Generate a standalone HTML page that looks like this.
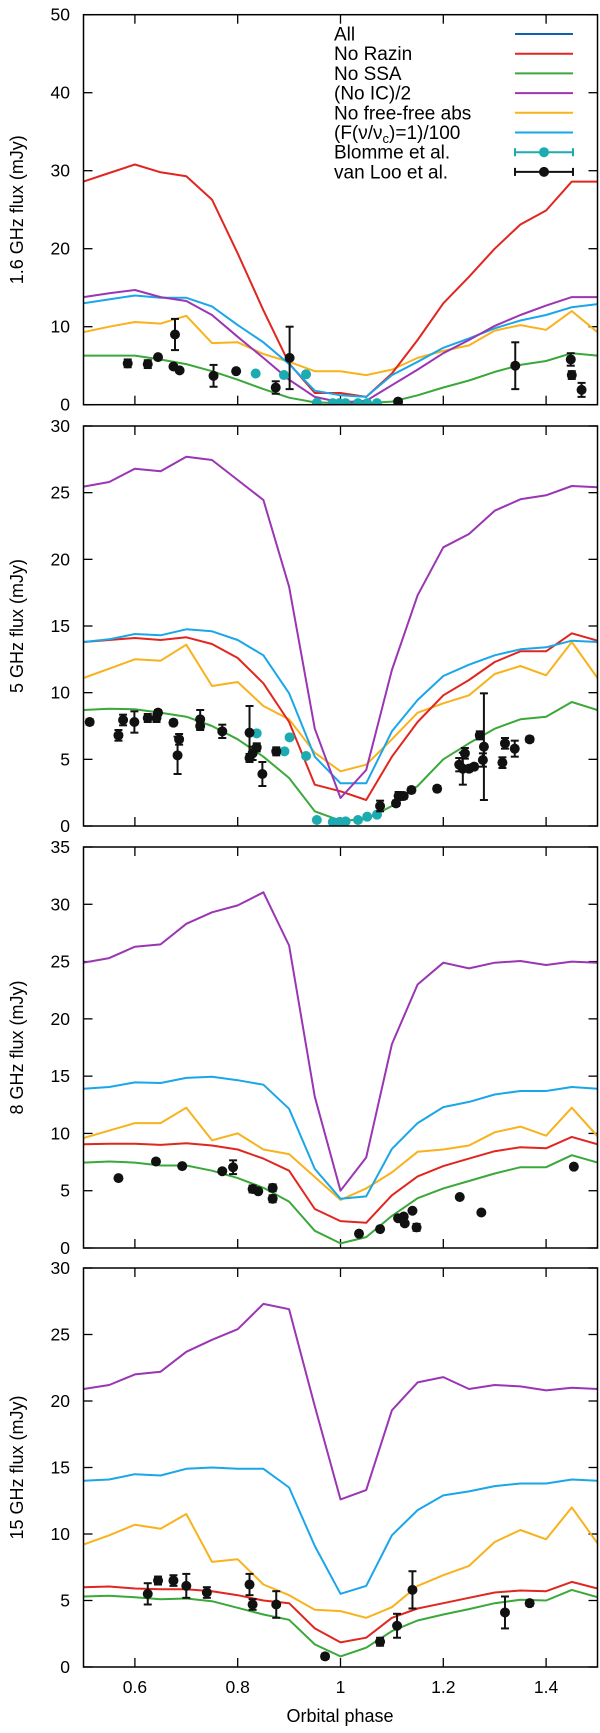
<!DOCTYPE html>
<html><head><meta charset="utf-8"><style>
html,body{margin:0;padding:0;background:#fff;}
svg{display:block;font-family:"Liberation Sans",Arial,sans-serif;}
</style></head><body>
<svg id="chart" width="600" height="1733" viewBox="0 0 600 1733" xmlns="http://www.w3.org/2000/svg"></svg>
<script>
const phases=[0.5,0.55,0.6,0.65,0.7,0.75,0.8,0.85,0.9,0.95,1.0,1.05,1.1,1.15,1.2,1.25,1.3,1.35,1.4,1.45,1.5];
const xTicks=[0.6,0.8,1,1.2,1.4];
const xTickLabels=["0.6","0.8","1","1.2","1.4"];
const seriesNames=["All","No Razin","No SSA","(No IC)/2","No free-free abs","(F(ν/νc)=1)/100"];
// Panel 1: 1.6 GHz
const p1Red=[28.6,29.7,30.8,29.8,29.3,26.3,19.4,12.1,5.3,1.5,1.5,1.0,4.0,8.3,13.0,16.4,20.0,23.1,24.9,28.6,28.6];
const p1Purple=[13.8,14.3,14.7,13.8,13.3,11.5,8.7,6.0,3.2,1.0,0.3,0.5,2.5,4.5,6.6,8.3,10.1,11.5,12.7,13.8,13.8];
const p1Blue=[13.0,13.5,14.0,13.7,13.7,12.6,10.2,8.0,5.2,1.8,1.2,1.0,3.8,5.5,7.3,8.5,9.8,10.8,11.5,12.5,12.9];
const p1Orange=[9.3,10.0,10.6,10.4,11.4,7.9,8.0,6.5,5.5,4.3,4.3,3.8,4.5,6.0,6.9,7.6,9.5,10.2,9.6,12.0,9.3];
const p1Green=[6.3,6.3,6.3,5.8,5.2,4.3,3.2,2.0,0.9,0.3,0.2,0.2,0.4,1.2,2.2,3.1,4.2,5.1,5.6,6.6,6.3];
const p1LooX=[0.586,0.625,0.645,0.678,0.675,0.687,0.753,0.797,0.874,0.901,1.112,1.34,1.448,1.45,1.469];
const p1LooY=[5.3,5.2,6.1,9.0,4.9,4.4,3.7,4.3,2.2,6.0,0.4,5.0,5.8,3.8,1.9];
const p1LooE=[0.5,0.5,0.2,2.0,0.2,0.2,1.4,0.2,0.8,4.0,0.2,3.0,0.8,0.5,0.9];
const p1BlX=[0.835,0.89,0.933,0.954,0.985,0.998,1.01,1.034,1.052,1.071];
const p1BlY=[4.0,3.8,3.9,0.25,0.2,0.2,0.2,0.2,0.2,0.2];
// Panel 2: 5 GHz
const p2Red=[13.8,13.95,14.1,13.95,14.15,13.65,12.6,10.7,7.8,3.1,2.6,1.95,5.2,7.8,9.8,10.95,12.3,13.1,13.1,14.45,13.9];
const p2Purple=[25.45,25.8,26.8,26.6,27.7,27.45,25.95,24.45,17.95,7.3,2.1,4.2,11.7,17.3,20.9,21.9,23.65,24.5,24.8,25.5,25.4];
const p2Blue=[13.8,14.0,14.4,14.3,14.75,14.6,13.95,12.8,9.95,5.2,3.2,3.2,7.1,9.45,11.25,12.1,12.8,13.25,13.4,13.9,13.8];
const p2Orange=[11.1,11.8,12.5,12.4,13.6,10.5,10.8,9.0,8.0,5.5,4.1,4.6,6.5,8.5,9.2,9.8,11.4,12.0,11.3,13.8,11.1];
const p2Green=[8.7,8.8,8.75,8.5,8.2,7.5,6.5,5.2,3.6,1.1,0.4,0.5,1.5,3.0,5.0,6.2,7.3,8.0,8.2,9.3,8.7];
const p2LooX=[0.512,0.568,0.577,0.599,0.625,0.642,0.645,0.675,0.686,0.683,0.727,0.727,0.77,0.823,0.823,0.829,0.837,0.848,0.875,1.077,1.108,1.113,1.123,1.138,1.188,1.231,1.238,1.242,1.25,1.26,1.271,1.277,1.279,1.315,1.32,1.339,1.368];
const p2LooY=[7.8,6.8,7.95,7.8,8.1,8.1,8.5,7.75,6.5,5.3,8.0,7.5,7.1,7.0,5.1,5.45,5.9,3.9,5.6,1.5,1.7,2.25,2.25,2.7,2.8,4.6,4.3,5.45,4.3,4.45,6.8,4.95,5.95,4.75,6.2,5.8,6.5];
const p2LooE=[0.2,0.4,0.4,0.8,0.3,0.3,0.2,0.2,0.4,1.4,0.7,0.3,0.5,2.0,0.3,0.5,0.3,0.9,0.3,0.4,0.2,0.3,0.2,0.2,0.2,0.5,1.2,0.4,0.2,0.2,0.3,0.5,4.0,0.4,0.4,0.6,0.2];
const p2BlX=[0.837,0.891,0.901,0.933,0.954,0.985,0.998,1.01,1.034,1.052,1.071];
const p2BlY=[6.95,5.6,6.65,5.25,0.45,0.3,0.3,0.35,0.45,0.7,0.85];
// Panel 3: 8 GHz
const p3Red=[9.05,9.1,9.1,9.0,9.15,8.95,8.6,7.8,6.75,3.4,2.35,2.2,4.6,6.25,7.15,7.8,8.45,8.8,8.7,9.7,9.05];
const p3Purple=[24.9,25.3,26.3,26.5,28.3,29.3,29.9,31.05,26.4,13.2,5.0,7.9,17.8,23.0,24.9,24.4,24.9,25.05,24.7,25.0,24.9];
const p3Blue=[13.9,14.05,14.45,14.4,14.85,14.95,14.65,14.25,12.15,6.9,4.3,4.5,8.65,10.9,12.3,12.75,13.4,13.7,13.7,14.05,13.9];
const p3Orange=[9.6,10.25,10.9,10.9,12.25,9.4,10.0,8.6,8.2,6.2,4.2,5.2,6.6,8.4,8.6,8.95,10.1,10.6,9.8,12.25,9.75];
const p3Green=[7.45,7.55,7.45,7.2,7.2,6.75,6.1,5.25,4.05,1.5,0.4,0.95,2.8,4.35,5.2,5.85,6.5,7.05,7.05,8.1,7.45];
const p3LooX=[0.568,0.641,0.692,0.77,0.791,0.829,0.84,0.868,0.868,1.036,1.077,1.112,1.123,1.125,1.14,1.148,1.232,1.274,1.454];
const p3LooY=[6.1,7.55,7.15,6.7,7.05,5.15,4.95,5.25,4.3,1.25,1.65,2.6,2.75,2.15,3.25,1.8,4.45,3.1,7.1];
const p3LooE=[0.1,0.2,0.1,0.2,0.6,0.3,0.1,0.3,0.3,0.1,0.1,0.1,0.1,0.1,0.1,0.3,0.1,0.1,0.1];
// Panel 4: 15 GHz
const p4Red=[6.0,6.05,5.9,5.85,5.85,5.7,5.4,5.0,4.8,2.9,1.85,2.2,3.7,4.4,4.8,5.2,5.6,5.75,5.7,6.4,5.9];
const p4Purple=[20.9,21.2,22.0,22.2,23.7,24.6,25.4,27.3,26.9,19.6,12.6,13.3,19.3,21.4,21.8,20.9,21.2,21.1,20.8,21.0,20.9];
const p4Blue=[14.0,14.1,14.5,14.4,14.9,15.0,14.9,14.9,13.5,9.1,5.5,6.1,9.9,11.8,12.9,13.2,13.6,13.8,13.8,14.1,14.0];
const p4Orange=[9.2,9.9,10.7,10.4,11.5,7.9,8.1,6.2,5.4,4.3,4.2,3.7,4.5,6.1,6.9,7.6,9.4,10.3,9.6,12.0,9.3];
const p4Green=[5.3,5.35,5.25,5.1,5.15,4.95,4.45,3.95,3.55,1.7,0.8,1.45,2.7,3.5,3.95,4.35,4.8,5.05,5.0,5.8,5.25];
const p4LooX=[0.625,0.645,0.675,0.7,0.74,0.823,0.829,0.875,0.97,1.077,1.11,1.14,1.32,1.368];
const p4LooY=[5.5,6.5,6.5,6.1,5.6,6.2,4.7,4.7,0.8,1.9,3.1,5.8,4.1,4.8];
const p4LooE=[0.8,0.3,0.4,0.9,0.4,0.8,0.4,1.0,0.2,0.3,0.9,1.4,1.2,0.2];

const NS="http://www.w3.org/2000/svg";
const svg=document.getElementById('chart');
const COL={red:"#e0261f",green:"#3aa83a",purple:"#9a35b3",orange:"#f8b21c",blue:"#1aa6e8",all:"#1060b0",teal:"#1cabb0",black:"#111"};
const X0=83.5,X1=597.5;
function xs(p){return X0+(p-0.5)*(X1-X0);}
function mk(tag,attrs,parent){const e=document.createElementNS(NS,tag);for(const k in attrs)e.setAttribute(k,attrs[k]);(parent||svg).appendChild(e);return e;}

const panels=[
 {name:"panel-1-6ghz",title:"1.6 GHz flux (mJy)",top:14.7,bot:404.7,ymax:50,step:10,red:p1Red,purple:p1Purple,blue:p1Blue,orange:p1Orange,green:p1Green,lx:p1LooX,ly:p1LooY,le:p1LooE,bx:p1BlX,by:p1BlY},
 {name:"panel-5ghz",title:"5 GHz flux (mJy)",top:426,bot:826,ymax:30,step:5,red:p2Red,purple:p2Purple,blue:p2Blue,orange:p2Orange,green:p2Green,lx:p2LooX,ly:p2LooY,le:p2LooE,bx:p2BlX,by:p2BlY},
 {name:"panel-8ghz",title:"8 GHz flux (mJy)",top:847,bot:1248,ymax:35,step:5,red:p3Red,purple:p3Purple,blue:p3Blue,orange:p3Orange,green:p3Green,lx:p3LooX,ly:p3LooY,le:p3LooE,bx:[],by:[]},
 {name:"panel-15ghz",title:"15 GHz flux (mJy)",top:1268,bot:1667,ymax:30,step:5,red:p4Red,purple:p4Purple,blue:p4Blue,orange:p4Orange,green:p4Green,lx:p4LooX,ly:p4LooY,le:p4LooE,bx:[],by:[]}
];

panels.forEach((P,pi)=>{
  const g=mk('g',{});
  
  
  const ys=v=>P.bot-(v/P.ymax)*(P.bot-P.top);
  // y ticks and labels
  for(let v=0;v<=P.ymax+1e-9;v+=P.step){
    const y=ys(v);
    mk('line',{x1:X0,y1:y,x2:X0+9,y2:y,stroke:"#000","stroke-width":1.3},g);
    mk('line',{x1:X1-9,y1:y,x2:X1,y2:y,stroke:"#000","stroke-width":1.3},g);
    const t=mk('text',{x:70,y:y+6,"text-anchor":"end","font-size":17.5,fill:"#000"},g);
    
    
    t.textContent=String(v);
  }
  xTicks.forEach((p,i)=>{
    const x=xs(p);
    mk('line',{x1:x,y1:P.bot,x2:x,y2:P.bot-9,stroke:"#000","stroke-width":1.3},g);
    mk('line',{x1:x,y1:P.top,x2:x,y2:P.top+9,stroke:"#000","stroke-width":1.3},g);
    if(pi===3){
      const t=mk('text',{x:x,y:P.bot+26,"text-anchor":"middle","font-size":17.5,fill:"#000"},g);
      
      
      t.textContent=xTickLabels[i];
    }
  });
  const cy=(P.top+P.bot)/2;
  const tt=mk('text',{x:0,y:0,transform:`translate(23,${cy}) rotate(-90)`,"text-anchor":"middle","font-size":18,fill:"#000"},g);
  
  
  tt.textContent=P.title;
  // series
  const clipId='clip'+pi;
  const cp=mk('clipPath',{id:clipId},g);
  mk('rect',{x:X0,y:P.top,width:X1-X0,height:P.bot-P.top},cp);
  const sg=mk('g',{"clip-path":`url(#${clipId})`},g);
  [["green",P.green],["orange",P.orange],["red",P.red],["blue",P.blue],["purple",P.purple]].forEach(([c,arr])=>{
    const d=arr.map((v,i)=>(i?'L':'M')+xs(phases[i]).toFixed(1)+','+ys(v).toFixed(1)).join(' ');
    const path=mk('path',{d:d,fill:"none",stroke:COL[c],"stroke-width":2,"stroke-linejoin":"round"},sg);
    
    
  });
  P.bx.forEach((p,i)=>{
    const c=mk('circle',{cx:xs(p),cy:ys(P.by[i]),r:5,fill:COL.teal},sg);
    
    
  });
  P.lx.forEach((p,i)=>{
    const x=xs(p),y=ys(P.ly[i]),e=P.le[i];
    const y1=ys(P.ly[i]+e),y2=ys(P.ly[i]-e);
    mk('line',{x1:x,y1:y1,x2:x,y2:y2,stroke:COL.black,"stroke-width":2},sg);
    mk('line',{x1:x-4,y1:y1,x2:x+4,y2:y1,stroke:COL.black,"stroke-width":2},sg);
    mk('line',{x1:x-4,y1:y2,x2:x+4,y2:y2,stroke:COL.black,"stroke-width":2},sg);
    const c=mk('circle',{cx:x,cy:y,r:5,fill:COL.black},sg);
    
    
  });
  const fr=mk('rect',{x:X0,y:P.top,width:X1-X0,height:P.bot-P.top,fill:"none",stroke:"#000","stroke-width":1.5},g);
  
  
});

// x-axis title
const xt=mk('text',{x:340,y:1722,"text-anchor":"middle","font-size":18,fill:"#000"});


xt.textContent="Orbital phase";

// legend
const lg=mk('g',{});


const legCols=[COL.all,COL.red,COL.green,COL.purple,COL.orange,COL.blue,COL.teal,COL.black];
const legLabels=["All","No Razin","No SSA","(No IC)/2","No free-free abs","","Blomme et al.","van Loo et al."];
legCols.forEach((c,i)=>{
  const y=34+i*19.7;
  const t=mk('text',{x:334,y:y+6.5,"font-size":19,fill:"#000"},lg);
  
  
  if(i===5){
    t.innerHTML='(F(ν/ν<tspan dy="4" font-size="13">c</tspan><tspan dy="-4">)=1)/100</tspan>';
  } else t.textContent=legLabels[i];
  mk('line',{x1:515,y1:y,x2:573,y2:y,stroke:c,"stroke-width":2},lg);
  if(i>=6){
    mk('line',{x1:515,y1:y-4,x2:515,y2:y+4,stroke:c,"stroke-width":2},lg);
    mk('line',{x1:573,y1:y-4,x2:573,y2:y+4,stroke:c,"stroke-width":2},lg);
    mk('circle',{cx:544,cy:y,r:5,fill:c},lg);
  }
});
</script>
</body></html>
